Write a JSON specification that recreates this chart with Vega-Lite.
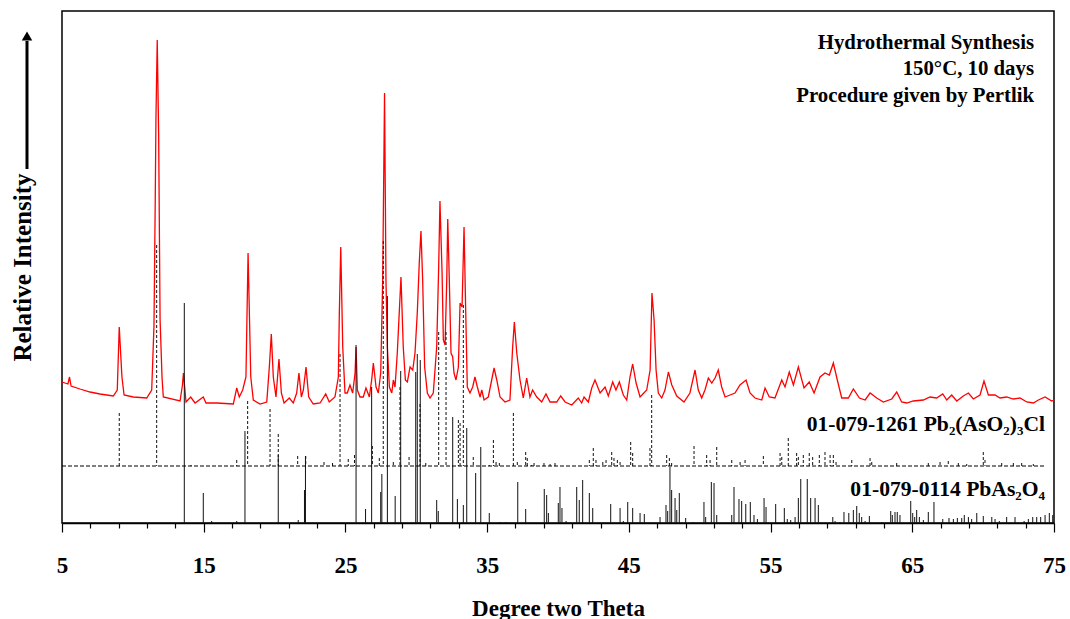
{
  "$schema": "https://vega.github.io/schema/vega-lite/v6.json",
  "width": 992,
  "height": 512,
  "autosize": {"type": "none"},
  "padding": {"left": 62, "top": 11, "right": 16, "bottom": 96},
  "background": "white",
  "config": {
    "font": "Liberation Serif",
    "view": {"stroke": "black", "strokeWidth": 1.5},
    "axisX": {"labelOverlap": false, "labelFlush": false}
  },
  "datasets": {
    "pattern": [
      {"t":5.00,"v":141},{"t":5.42,"v":139},{"t":5.53,"v":146},{"t":5.64,"v":137},{"t":6.27,"v":134},{"t":6.98,"v":131},{"t":7.68,"v":129},{"t":8.62,"v":127},{"t":8.90,"v":133},{"t":9.04,"v":196},{"t":9.23,"v":146},{"t":9.38,"v":128},{"t":10.03,"v":126},{"t":10.98,"v":125},{"t":11.33,"v":133},{"t":11.49,"v":197},{"t":11.58,"v":323},{"t":11.63,"v":405},{"t":11.72,"v":483},{"t":11.82,"v":389},{"t":11.92,"v":204},{"t":12.06,"v":145},{"t":12.15,"v":126},{"t":13.33,"v":122},{"t":13.50,"v":138},{"t":13.57,"v":150},{"t":13.75,"v":121},{"t":14.08,"v":126},{"t":14.39,"v":120},{"t":14.97,"v":126},{"t":15.16,"v":120},{"t":15.92,"v":120},{"t":17.09,"v":119},{"t":17.33,"v":135},{"t":17.51,"v":126},{"t":17.75,"v":133},{"t":17.98,"v":146},{"t":18.13,"v":270},{"t":18.32,"v":146},{"t":18.50,"v":123},{"t":18.97,"v":119},{"t":19.45,"v":121},{"t":19.63,"v":156},{"t":19.77,"v":189},{"t":19.91,"v":146},{"t":20.10,"v":126},{"t":20.31,"v":164},{"t":20.48,"v":130},{"t":20.67,"v":120},{"t":21.04,"v":125},{"t":21.32,"v":120},{"t":21.56,"v":130},{"t":21.72,"v":150},{"t":21.89,"v":126},{"t":22.03,"v":133},{"t":22.22,"v":156},{"t":22.41,"v":126},{"t":22.73,"v":119},{"t":23.21,"v":120},{"t":23.61,"v":129},{"t":23.86,"v":121},{"t":24.26,"v":126},{"t":24.50,"v":146},{"t":24.57,"v":210},{"t":24.67,"v":276},{"t":24.81,"v":176},{"t":24.97,"v":130},{"t":25.13,"v":130},{"t":25.32,"v":138},{"t":25.51,"v":130},{"t":25.68,"v":150},{"t":25.75,"v":176},{"t":25.84,"v":133},{"t":26.03,"v":126},{"t":26.26,"v":126},{"t":26.45,"v":135},{"t":26.69,"v":126},{"t":26.85,"v":143},{"t":26.97,"v":160},{"t":27.16,"v":136},{"t":27.32,"v":130},{"t":27.49,"v":150},{"t":27.63,"v":243},{"t":27.76,"v":430},{"t":27.86,"v":243},{"t":27.96,"v":176},{"t":28.10,"v":136},{"t":28.27,"v":130},{"t":28.38,"v":143},{"t":28.50,"v":136},{"t":28.66,"v":170},{"t":28.92,"v":246},{"t":29.08,"v":176},{"t":29.23,"v":143},{"t":29.37,"v":141},{"t":29.56,"v":156},{"t":29.75,"v":153},{"t":29.91,"v":170},{"t":30.07,"v":210},{"t":30.21,"v":260},{"t":30.33,"v":292},{"t":30.45,"v":243},{"t":30.59,"v":156},{"t":30.78,"v":130},{"t":30.97,"v":125},{"t":31.20,"v":130},{"t":31.44,"v":176},{"t":31.58,"v":256},{"t":31.67,"v":322},{"t":31.82,"v":250},{"t":31.91,"v":183},{"t":32.03,"v":178},{"t":32.15,"v":243},{"t":32.22,"v":304},{"t":32.33,"v":243},{"t":32.45,"v":170},{"t":32.57,"v":166},{"t":32.66,"v":150},{"t":32.80,"v":143},{"t":32.97,"v":156},{"t":33.09,"v":220},{"t":33.23,"v":216},{"t":33.37,"v":296},{"t":33.49,"v":210},{"t":33.60,"v":136},{"t":33.79,"v":130},{"t":33.98,"v":136},{"t":34.14,"v":146},{"t":34.31,"v":136},{"t":34.50,"v":126},{"t":34.62,"v":133},{"t":34.78,"v":123},{"t":35.08,"v":126},{"t":35.32,"v":143},{"t":35.49,"v":155},{"t":35.68,"v":143},{"t":35.91,"v":126},{"t":36.26,"v":121},{"t":36.61,"v":123},{"t":36.80,"v":176},{"t":36.92,"v":201},{"t":37.09,"v":170},{"t":37.32,"v":143},{"t":37.55,"v":125},{"t":37.79,"v":145},{"t":38.02,"v":126},{"t":38.21,"v":133},{"t":38.50,"v":126},{"t":38.85,"v":121},{"t":39.15,"v":129},{"t":39.44,"v":121},{"t":39.91,"v":121},{"t":40.19,"v":127},{"t":40.50,"v":121},{"t":40.97,"v":118},{"t":41.43,"v":125},{"t":41.67,"v":120},{"t":41.84,"v":126},{"t":42.14,"v":121},{"t":42.38,"v":135},{"t":42.61,"v":143},{"t":42.97,"v":130},{"t":43.32,"v":136},{"t":43.55,"v":127},{"t":43.86,"v":141},{"t":44.09,"v":133},{"t":44.33,"v":141},{"t":44.61,"v":128},{"t":44.85,"v":123},{"t":45.08,"v":146},{"t":45.27,"v":159},{"t":45.51,"v":140},{"t":45.79,"v":126},{"t":46.26,"v":133},{"t":46.50,"v":153},{"t":46.63,"v":230},{"t":46.78,"v":203},{"t":46.92,"v":153},{"t":47.08,"v":130},{"t":47.32,"v":125},{"t":47.55,"v":133},{"t":47.79,"v":151},{"t":48.03,"v":138},{"t":48.38,"v":127},{"t":48.89,"v":121},{"t":49.31,"v":130},{"t":49.67,"v":153},{"t":49.90,"v":133},{"t":50.14,"v":125},{"t":50.37,"v":133},{"t":50.61,"v":145},{"t":50.85,"v":140},{"t":51.08,"v":145},{"t":51.31,"v":153},{"t":51.55,"v":136},{"t":51.79,"v":126},{"t":52.14,"v":128},{"t":52.49,"v":130},{"t":52.84,"v":138},{"t":53.27,"v":143},{"t":53.55,"v":130},{"t":53.90,"v":125},{"t":54.38,"v":123},{"t":54.61,"v":135},{"t":54.91,"v":126},{"t":55.31,"v":125},{"t":55.79,"v":143},{"t":56.02,"v":136},{"t":56.32,"v":151},{"t":56.61,"v":138},{"t":56.96,"v":156},{"t":57.36,"v":135},{"t":57.73,"v":141},{"t":58.07,"v":130},{"t":58.49,"v":146},{"t":58.84,"v":150},{"t":59.15,"v":148},{"t":59.43,"v":160},{"t":59.71,"v":143},{"t":60.02,"v":125},{"t":60.49,"v":125},{"t":60.84,"v":134},{"t":61.27,"v":125},{"t":61.67,"v":123},{"t":62.02,"v":130},{"t":62.49,"v":125},{"t":62.96,"v":121},{"t":63.55,"v":124},{"t":63.90,"v":131},{"t":64.25,"v":121},{"t":64.61,"v":120},{"t":65.07,"v":122},{"t":65.78,"v":123},{"t":66.25,"v":126},{"t":66.72,"v":125},{"t":67.15,"v":129},{"t":67.43,"v":123},{"t":67.78,"v":128},{"t":68.14,"v":122},{"t":68.60,"v":127},{"t":68.96,"v":130},{"t":69.31,"v":124},{"t":69.78,"v":128},{"t":70.06,"v":142},{"t":70.37,"v":128},{"t":70.84,"v":128},{"t":71.19,"v":125},{"t":71.66,"v":126},{"t":72.13,"v":124},{"t":72.60,"v":125},{"t":73.08,"v":121},{"t":73.54,"v":120},{"t":73.90,"v":123},{"t":74.37,"v":126},{"t":74.84,"v":122},{"t":75.00,"v":123}
    ],
    "pbas2o4": [
      {"t":13.63,"v":220},{"t":14.97,"v":30},{"t":15.56,"v":2},{"t":17.33,"v":2},{"t":17.91,"v":92},{"t":20.26,"v":68},{"t":21.67,"v":3},{"t":22.11,"v":33},{"t":22.18,"v":67},{"t":25.75,"v":178},{"t":26.42,"v":14},{"t":26.85,"v":136},{"t":27.49,"v":31},{"t":27.57,"v":49},{"t":27.96,"v":227},{"t":28.51,"v":27},{"t":28.90,"v":152},{"t":29.96,"v":151},{"t":30.07,"v":169},{"t":30.28,"v":163},{"t":31.44,"v":23},{"t":31.55,"v":12},{"t":32.57,"v":106},{"t":32.90,"v":24},{"t":33.32,"v":18},{"t":33.56,"v":95},{"t":34.19,"v":50},{"t":34.55,"v":76},{"t":35.15,"v":10},{"t":35.91,"v":1},{"t":36.31,"v":1},{"t":37.16,"v":41},{"t":37.72,"v":14},{"t":39.03,"v":34},{"t":39.20,"v":28},{"t":39.32,"v":10},{"t":40.02,"v":20},{"t":40.14,"v":36},{"t":40.28,"v":15},{"t":40.57,"v":2},{"t":41.32,"v":36},{"t":41.50,"v":23},{"t":41.74,"v":43},{"t":42.21,"v":30},{"t":42.45,"v":15},{"t":43.72,"v":19},{"t":44.38,"v":15},{"t":44.61,"v":2},{"t":44.92,"v":21},{"t":45.27,"v":15},{"t":45.79,"v":10},{"t":46.09,"v":9},{"t":47.20,"v":6},{"t":47.62,"v":18},{"t":47.74,"v":12},{"t":47.90,"v":56},{"t":48.02,"v":33},{"t":48.26,"v":25},{"t":48.38,"v":13},{"t":48.56,"v":30},{"t":49.01,"v":5},{"t":49.55,"v":1},{"t":50.30,"v":21},{"t":50.42,"v":6},{"t":50.82,"v":41},{"t":51.01,"v":40},{"t":51.20,"v":8},{"t":52.26,"v":8},{"t":52.42,"v":36},{"t":52.77,"v":24},{"t":52.96,"v":22},{"t":53.25,"v":19},{"t":53.57,"v":21},{"t":53.83,"v":8},{"t":54.07,"v":4},{"t":54.54,"v":25},{"t":54.68,"v":16},{"t":55.36,"v":19},{"t":55.97,"v":15},{"t":56.18,"v":4},{"t":56.42,"v":3},{"t":56.73,"v":6},{"t":56.96,"v":25},{"t":57.13,"v":44},{"t":57.59,"v":44},{"t":57.83,"v":25},{"t":58.14,"v":25},{"t":58.37,"v":18},{"t":59.39,"v":6},{"t":59.55,"v":2},{"t":59.90,"v":1},{"t":60.18,"v":11},{"t":60.52,"v":10},{"t":60.84,"v":13},{"t":61.08,"v":17},{"t":61.26,"v":10},{"t":61.43,"v":6},{"t":61.67,"v":2},{"t":61.97,"v":7},{"t":62.84,"v":1},{"t":63.48,"v":12},{"t":63.59,"v":8},{"t":63.78,"v":11},{"t":63.94,"v":11},{"t":64.13,"v":8},{"t":64.89,"v":22},{"t":65.03,"v":10},{"t":65.17,"v":6},{"t":65.31,"v":13},{"t":65.50,"v":6},{"t":65.78,"v":3},{"t":66.13,"v":11},{"t":66.53,"v":21},{"t":67.15,"v":4},{"t":67.59,"v":5},{"t":67.90,"v":4},{"t":68.18,"v":5},{"t":68.49,"v":5},{"t":68.67,"v":8},{"t":68.96,"v":6},{"t":69.19,"v":4},{"t":69.55,"v":10},{"t":70.01,"v":7},{"t":70.61,"v":6},{"t":70.84,"v":4},{"t":71.14,"v":2},{"t":71.66,"v":6},{"t":72.25,"v":6},{"t":72.89,"v":2},{"t":73.19,"v":4},{"t":73.50,"v":6},{"t":73.78,"v":6},{"t":74.06,"v":6},{"t":74.37,"v":8},{"t":74.67,"v":10},{"t":74.91,"v":8}
    ],
    "pb2cl": [
      {"t":9.04,"v":110},{"t":11.68,"v":278},{"t":14.10,"v":58},{"t":17.33,"v":63},{"t":18.10,"v":122},{"t":19.68,"v":114},{"t":20.26,"v":89},{"t":21.63,"v":67},{"t":22.20,"v":67},{"t":23.49,"v":61},{"t":24.09,"v":60},{"t":24.62,"v":169},{"t":25.20,"v":64},{"t":25.64,"v":68},{"t":26.90,"v":77},{"t":27.39,"v":65},{"t":27.67,"v":282},{"t":28.38,"v":61},{"t":28.85,"v":136},{"t":29.49,"v":66},{"t":30.26,"v":119},{"t":30.67,"v":60},{"t":31.58,"v":191},{"t":32.10,"v":191},{"t":32.97,"v":103},{"t":33.09,"v":100},{"t":33.32,"v":218},{"t":34.02,"v":66},{"t":35.15,"v":58},{"t":35.44,"v":83},{"t":35.63,"v":61},{"t":35.86,"v":60},{"t":36.85,"v":110},{"t":37.13,"v":61},{"t":37.72,"v":71},{"t":37.83,"v":65},{"t":38.14,"v":58},{"t":38.31,"v":60},{"t":39.01,"v":60},{"t":39.44,"v":59},{"t":39.79,"v":60},{"t":42.21,"v":63},{"t":42.49,"v":75},{"t":42.68,"v":63},{"t":43.16,"v":61},{"t":43.39,"v":63},{"t":43.79,"v":71},{"t":43.95,"v":65},{"t":44.19,"v":63},{"t":44.38,"v":61},{"t":45.13,"v":81},{"t":45.27,"v":70},{"t":46.49,"v":75},{"t":46.61,"v":128},{"t":47.67,"v":68},{"t":47.86,"v":65},{"t":48.02,"v":60},{"t":49.60,"v":77},{"t":50.49,"v":68},{"t":50.73,"v":63},{"t":51.20,"v":76},{"t":52.26,"v":63},{"t":52.85,"v":61},{"t":53.20,"v":63},{"t":54.49,"v":67},{"t":55.67,"v":70},{"t":55.79,"v":66},{"t":56.25,"v":85},{"t":56.84,"v":70},{"t":56.96,"v":66},{"t":57.31,"v":68},{"t":57.73,"v":70},{"t":57.97,"v":66},{"t":58.44,"v":68},{"t":58.84,"v":71},{"t":59.20,"v":68},{"t":59.43,"v":68},{"t":59.62,"v":61},{"t":60.73,"v":63},{"t":62.02,"v":65},{"t":62.14,"v":61},{"t":63.90,"v":60},{"t":66.13,"v":60},{"t":66.96,"v":61},{"t":67.54,"v":62},{"t":68.25,"v":60},{"t":68.84,"v":59},{"t":70.01,"v":71},{"t":70.13,"v":63},{"t":71.31,"v":60},{"t":72.13,"v":60},{"t":72.72,"v":60},{"t":73.54,"v":59}
    ]
  },
  "encoding": {
    "x": {
      "field": "t", "type": "quantitative",
      "scale": {"domain": [5, 75], "nice": false, "zero": false},
      "axis": {
        "title": "Degree two Theta",
        "values": [5,7,9,11,13,15,17,19,21,23,25,27,29,31,33,35,37,39,41,43,45,47,49,51,53,55,57,59,61,63,65,67,69,71,73,75],
        "labelExpr": "(datum.value - 5) % 10 === 0 ? datum.label : ''",
        "tickSize": {"condition": {"test": "(datum.value - 5) % 10 === 0", "value": 9}, "value": 5},
        "tickColor": "black",
        "tickWidth": 1.2,
        "domainColor": "black",
        "domainWidth": 1.5,
        "grid": false,
        "labelFont": "Liberation Serif",
        "labelFontSize": 23,
        "labelFontWeight": "bold",
        "labelColor": "black",
        "labelPadding": 22,
        "labelFlush": false,
        "labelOverlap": false,
        "titleFont": "Liberation Serif",
        "titleFontSize": 23,
        "titleFontWeight": "bold",
        "titleColor": "black",
        "titlePadding": 20
      }
    },
    "y": {
      "field": "v", "type": "quantitative",
      "scale": {"domain": [0, 512], "nice": false, "zero": false},
      "axis": {
        "title": "Relative Intensity",
        "domain": false,
        "ticks": false,
        "labels": false,
        "grid": false,
        "titleFont": "Liberation Serif",
        "titleFontSize": 25,
        "titleFontWeight": "bold",
        "titleColor": "black",
        "titlePadding": 27
      }
    }
  },
  "layer": [
    {
      "data": {"name": "pattern"},
      "mark": {"type": "line", "color": "#ff0000", "strokeWidth": 1.3, "interpolate": "linear"}
    },
    {
      "data": {"name": "pbas2o4"},
      "mark": {"type": "rule", "color": "#111111", "strokeWidth": 1},
      "encoding": {"y2": {"datum": 0}}
    },
    {
      "data": {"name": "pb2cl"},
      "mark": {"type": "rule", "color": "#111111", "strokeWidth": 1, "strokeDash": [3, 2]},
      "encoding": {"y2": {"datum": 57}}
    },
    {
      "data": {"values": [{"t": 5, "t2": 74.37, "v": 57}]},
      "mark": {"type": "rule", "color": "black", "strokeWidth": 1, "strokeDash": [4, 2]},
      "encoding": {"x2": {"field": "t2"}}
    },
    {
      "data": {"values": [{"t": 2.53, "v": 354, "v2": 482}]},
      "mark": {"type": "rule", "color": "black", "strokeWidth": 3},
      "encoding": {"y2": {"field": "v2"}}
    },
    {
      "data": {"values": [{"t": 2.53, "v": 487}]},
      "mark": {"type": "point", "shape": "triangle-up", "filled": true, "color": "black", "size": 110, "opacity": 1}
    },
    {
      "data": {"values": [
        {"t": 73.59, "v": 480, "label": "Hydrothermal Synthesis"},
        {"t": 73.59, "v": 454, "label": "150°C, 10 days"},
        {"t": 73.59, "v": 427, "label": "Procedure given by Pertlik"}
      ]},
      "mark": {"type": "text", "align": "right", "baseline": "middle", "font": "Liberation Serif", "fontSize": 20.8, "fontWeight": "bold", "color": "black"},
      "encoding": {"text": {"field": "label"}}
    },
    {
      "data": {"values": [
        {"t": 74.37, "v": 98, "label": "01-079-1261 Pb₂(AsO₂)₃Cl"},
        {"t": 74.37, "v": 33, "label": "01-079-0114 PbAs₂O₄"}
      ]},
      "mark": {"type": "text", "align": "right", "baseline": "middle", "font": "Liberation Serif", "fontSize": 21.6, "fontWeight": "bold", "color": "black"},
      "encoding": {"text": {"field": "label"}}
    }
  ]
}
